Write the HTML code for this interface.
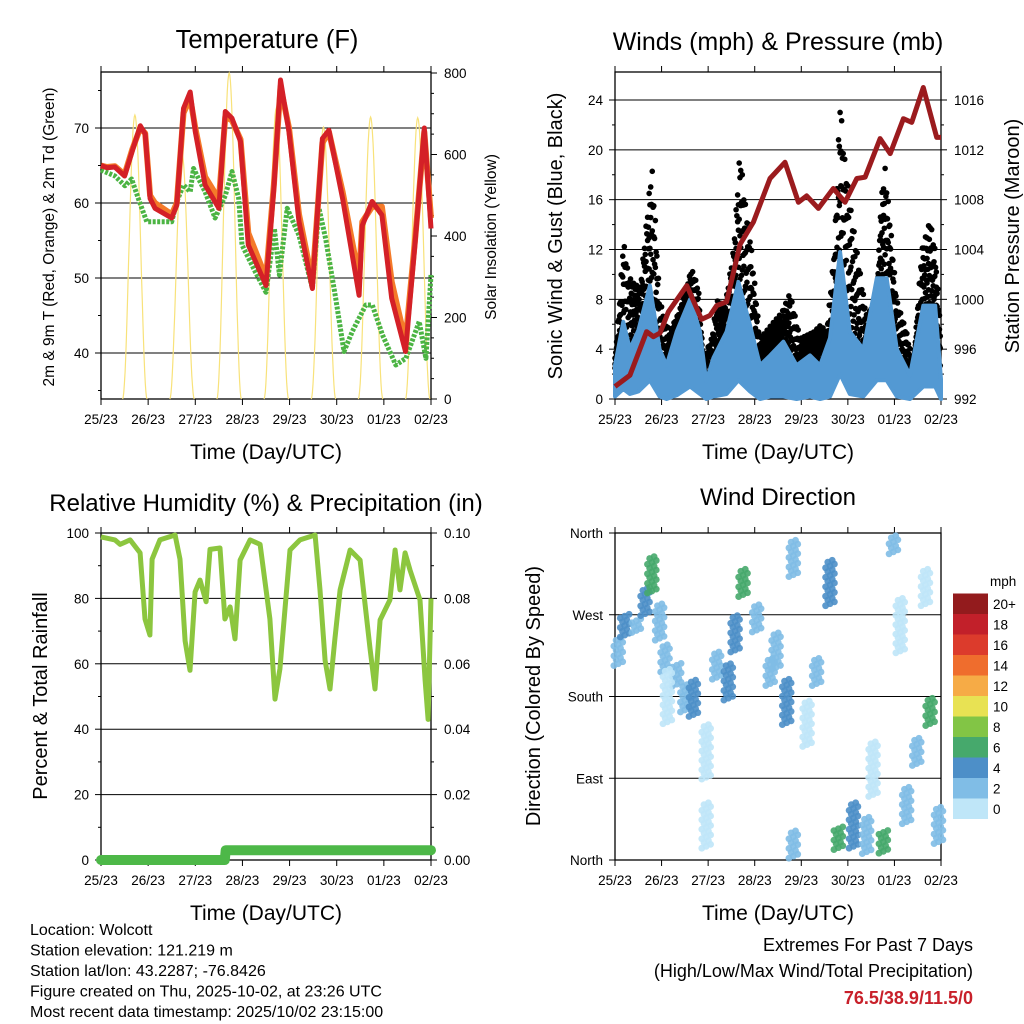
<!DOCTYPE html>
<html><head><meta charset="utf-8"><style>
html,body{margin:0;padding:0;background:#fff}
svg{display:block;font-family:"Liberation Sans",sans-serif}
</style></head><body>
<svg id="c" width="1024" height="1024" viewBox="0 0 1024 1024">
<g id="g"></g>
</svg>
<script>
// ---------- DATA ----------
const dayLabels = ["25/23","26/23","27/23","28/23","29/23","30/23","01/23","02/23"];
const tRedTimes = [0,3,7,12,16,20,22.5,25,27.5,36,38.6,42,45.4,48,53,60,63.3,66.7,71,75,84,88,91.4,95.7,100.8,107.6,112.7,116,123,131.4,133,138,143,148,155,160,164.6,168];
const tRedVals  = [65,64.7,64.8,63.6,67,70.3,69.2,60.6,59.3,58,59.7,72.6,74.8,69.5,62.4,59.3,72.2,71.3,68.2,54.4,49,62,76.4,69.5,57.5,48.6,68.6,69.7,60.6,47.7,57,60.2,58.4,47.3,40.2,55,70,56.6];
const tOrgVals  = [65,64.8,64.9,63.8,67.2,70,69.3,61,60,58.5,60,72,74,70,63.5,60.5,71.5,71,68.5,56,50,62.5,75.5,70,58.5,49.5,68,69.5,61.5,50,57.5,59.5,59.5,49.5,41.5,55.5,69.5,58];
const tdTimes = [0,7.1,12.2,15.6,19,23.3,36,38.6,42,45.4,47.1,53,58.1,63.3,66.7,70.1,71.8,78.6,84,88.3,90.8,94.8,100.8,107.6,111,114.4,119.5,123.7,128,134.8,138.1,143.3,150.1,155.2,162,165.4,168];
const tdVals  = [64.4,63.6,62.3,63.2,60.6,57.5,57.5,60.2,62.4,61.5,64.6,61.5,58,61,64.2,60.6,54.4,50.8,48.1,56.6,50.4,59.3,55.7,48.6,59.3,55.2,47.3,40.2,42.9,46.4,46.4,42.4,38.4,39.3,44.2,39.3,50.4];
const solarRise = [11,35,59,83,107,131,155];
const solarSet  = [23.5,47.5,71.5,95.5,119.5,143.5,167.5];
const solarPeak = [697,600,800,714,667,692,690];
const presTimes = [0,7.7,16.3,19.8,23.2,27.5,37,44.6,48.9,52.4,57.5,64.4,71.3,79.9,87.6,94.5,98.8,104.8,112.5,118.6,124.6,128.9,136.6,141.8,148.6,152.9,158.9,165.8,168];
const presVals  = [993,993.9,997.4,997,997.3,999,1001.1,998.4,998.7,999.5,999.8,1004.4,1006.2,1009.7,1011,1007.8,1008.3,1007.3,1008.9,1007.8,1009.7,1009.8,1012.9,1011.7,1014.5,1014.2,1017,1013,1013];
const windTimes = [0,4.3,7.7,12,18,23,26.6,31.8,38.7,43.8,47,50.7,57.5,63.6,69.6,74.7,80,86.8,93.6,100.5,105.7,110.8,116,121,128,134.9,140,145.2,152,158.9,165,168];
const windHi = [2.7,6.2,4,5.5,9.1,4,2.7,5.4,8,5.4,1.4,3.3,5.4,9.4,5.9,2.7,3.5,4.6,2.7,3.5,2.7,4.9,11.8,5.4,4,9.7,9.7,4,1.9,7.5,7.5,1.6];
const windLo = [0.2,0.8,0.4,0.6,1.5,0.2,0,0.3,1,0.4,0,0.2,0.4,1.5,0.6,0,0.2,0.2,0,0.2,0,0.2,2,0.4,0.2,1.5,1.5,0.2,0,1,1,0];
const gustTimes = [0,2,4.3,7,9.5,13,16,19,21,23,28,33,39.5,43,45.5,50,52.4,56.7,61,64.4,67,69.6,74.7,78,81.6,86,90.2,95.4,102.2,106,109.1,113,116,118,121,124.6,129.7,135,137,139.2,142,145.2,150.3,153.8,158,162.4,165,168];
const gustHi = [3.3,7,12.9,10,9.4,9,14,19,14,8,5.4,7,10.5,9,3.3,5,8,7.5,12,20.1,16,13.4,4.9,5.5,6.2,7,8.6,4.9,5.4,6,5.4,12,24.3,20,16,12.1,6.7,8,16,18.7,14,8,5.4,2.7,12,14.5,12,5.4];
const rhTimes = [0,7.1,9.7,14.8,19.9,22.4,24.9,26,30,37.7,40.2,42.8,45.3,47.9,50.4,53.5,55.5,60.6,63.1,65.7,68.2,70.8,75.9,81,86,88.6,91.1,96.2,101.3,109,111.5,114.1,116.6,119.1,121.7,126.8,131.9,137,139.5,142.1,147.1,149.7,152.2,154.8,157.3,162.4,165,166.5,168];
const rhVals = [98.8,97.9,96.5,97.9,93.9,73.7,68.8,92,97.9,99.4,92,67,58,82,85.6,79,95,95.4,73.7,77.4,67.6,91.7,97.9,96.5,73.7,49.2,58.4,94.8,97.9,99.4,82.6,61,52.3,67.6,82.6,94.8,91.7,64.5,52.3,73.4,79.5,94.8,82.6,93.9,88.7,79.5,55,43,80];
const precipTimes = [0,63,63.5,168];
const precipVals = [0,0,0.003,0.003];
const dirTimes  = [1.7,5,11,15.5,19,23,25.8,31.8,36,40.4,47,47,52.4,58.4,61.9,66,73,80,88.5,91.9,91.9,103.9,110.8,115.1,122.9,129.7,138.3,143.5,147,150.3,155.5,162.4,166.7,27,83,99,133,160];
const dirVals   = [229,258,258,284,314,262,222,204,178,178,119,38,214,196,249,305,266,207,174,332,17,207,305,24,38,27,20,347,258,60,119,163,38,180,230,150,100,300];
const dirSpread = [30,25,15,30,40,40,30,25,30,40,60,50,30,40,40,30,30,30,50,40,30,30,50,25,50,40,25,20,60,40,30,30,40,60,40,50,60,40];
const dirSpeed  = [3,4,3,5,6,2,2,2,3,4,0,0,2,4,4,6,2,2,4,2,2,2,4,7,4,2,6,3,0,2,3,6,3,0,2,0,0,0];
const cbLabels = ["0","2","4","6","8","10","12","14","16","18","20+"];
const cbColors = ["#bfe6f8","#80bde6","#4d8fc8","#46a96c","#82c545","#e8e253","#f6ab46","#ef6d2d","#dc3b2c","#c2202a","#931b1d"];

// ---------- HELPERS ----------
const NS="http://www.w3.org/2000/svg";
const G=document.getElementById('g');
function el(tag,attrs,parent){const e=document.createElementNS(NS,tag);for(const k in attrs)e.setAttribute(k,attrs[k]);(parent||G).appendChild(e);return e;}
function txt(s,x,y,size,anchor,parent,extra){const t=el('text',Object.assign({x:x,y:y,'font-size':size,'text-anchor':anchor||'middle',fill:'#000'},extra||{}),parent);t.textContent=s;return t;}
function lin(d0,d1,r0,r1){return v=>r0+(v-d0)*(r1-r0)/(d1-d0);}
function path(pts){return pts.map((p,i)=>(i?'L':'M')+p[0].toFixed(1)+','+p[1].toFixed(1)).join('');}
function interp(ts,vs,t){if(t<=ts[0])return vs[0];for(let i=1;i<ts.length;i++){if(t<=ts[i]){const f=(t-ts[i-1])/(ts[i]-ts[i-1]);return vs[i-1]+f*(vs[i]-vs[i-1]);}}return vs[vs.length-1];}

function frame(x0,y0,x1,y1,name){
  const g=el('g',{});
  
  
  el('rect',{x:x0,y:y0,width:x1-x0,height:y1-y0,fill:'none',stroke:'#000','stroke-width':1.3},g);
  return g;
}
function xAxis(x0,x1,y0,y1,g){
  const X=lin(0,168,x0,x1);
  const ax=el('g',{},g);
  
  
  dayLabels.forEach((s,i)=>{const x=X(i*24);
    el('line',{x1:x,x2:x,y1:y1,y2:y1+6,stroke:'#000'},ax);
    el('line',{x1:x,x2:x,y1:y0,y2:y0-6,stroke:'#000'},ax);
    const t=txt(s,x,y1+25,13.5,'middle',ax);
    
    
  });
  const tt=txt('Time (Day/UTC)',(x0+x1)/2,y1+60,21,'middle',ax);
  
  
  return X;
}
function yTicks(vals,labels,Y,x0,x1,side,grid,g,size,minor){
  vals.forEach((v,i)=>{const y=Y(v);
    if(grid) el('line',{x1:x0,x2:x1,y1:y,y2:y,stroke:'#000','stroke-width':1},g);
    if(side==='l'){el('line',{x1:x0,x2:x0-6,y1:y,y2:y,stroke:'#000'},g);
      const t=txt(labels[i],x0-12,y+5,size||13.5,'end',g);}
    else{el('line',{x1:x1,x2:x1+6,y1:y,y2:y,stroke:'#000'},g);
      const t=txt(labels[i],x1+13,y+5,size||13.5,'start',g);}
  });
  (minor||[]).forEach(v=>{const y=Y(v);
    if(side==='l') el('line',{x1:x0,x2:x0-3,y1:y,y2:y,stroke:'#000'},g);
    else el('line',{x1:x1,x2:x1+3,y1:y,y2:y,stroke:'#000'},g);});
}
function rotLabel(s,x,y,size,name){const t=txt(s,x,y,size,'middle',G,{transform:'rotate(-90 '+x+' '+y+')'});}
function title(s,x,y,size,name){const t=txt(s,x,y,size);}

// ---------- PANEL 1: TEMPERATURE ----------
(function(){
  const x0=101,x1=431,y0=72,y1=399;
  const g=frame(x0,y0,x1,y1,'temperature-panel');
  const X=xAxis(x0,x1,y0,y1,g);
  const Y=lin(40,70,353,128), YS=lin(0,800,399,73);
  yTicks([40,50,60,70],['40','50','60','70'],Y,x0,x1,'l',true,g,13.5,[35,45,55,65,75]);
  const sv=[],sl=[];for(let v=0;v<=800;v+=50){if(v%200===0)sv.push(v);else sl.push(v);}
  yTicks(sv,sv.map(String),YS,x0,x1,'r',false,g,13.5,sl);
  solarRise.forEach((r,i)=>{const pts=[];const s=solarSet[i];
    for(let k=0;k<=40;k++){const t=r+(s-r)*k/40;const sn=Math.sin(Math.PI*k/40);const v=solarPeak[i]*sn*sn;if(t<=168)pts.push([X(t),YS(v)]);}
    const p=el('path',{d:path(pts),fill:'none',stroke:'#f8e27a','stroke-width':1.2},g);
    
    
  });
  const td=el('path',{d:path(tdTimes.map((t,i)=>[X(t),Y(tdVals[i])])),fill:'none',stroke:'#4bb443','stroke-width':5,'stroke-dasharray':'3 1.5','stroke-linejoin':'round'},g);
  
  
  const o=el('path',{d:path(tRedTimes.map((t,i)=>[X(t),Y(tOrgVals[i])])),fill:'none',stroke:'#f47a29','stroke-width':6,'stroke-linejoin':'round'},g);
  
  
  const r=el('path',{d:path(tRedTimes.map((t,i)=>[X(t),Y(tRedVals[i])])),fill:'none',stroke:'#d42027','stroke-width':5,'stroke-linejoin':'round'},g);
  
  
  title('Temperature (F)',267,48,25.5,'temperature-title');
  rotLabel('2m & 9m T (Red, Orange) & 2m Td (Green)',54,237,15.5,'temperature-y-axis-title');
  rotLabel('Solar Insolation (Yellow)',496,237,15.5,'solar-y-axis-title');
})();

// ---------- PANEL 2: WINDS ----------
(function(){
  const x0=615,x1=941,y0=72,y1=399;
  const g=frame(x0,y0,x1,y1,'winds-panel');
  const X=xAxis(x0,x1,y0,y1,g);
  const Y=lin(0,24,399,100), YP=lin(992,1016,399,100);
  yTicks([0,4,8,12,16,20,24],['0','4','8','12','16','20','24'],Y,x0,x1,'l',true,g,13.5,[2,6,10,14,18,22]);
  yTicks([992,996,1000,1004,1008,1012,1016],['992','996','1000','1004','1008','1012','1016'],YP,x0,x1,'r',false,g,13.5,[994,998,1002,1006,1010,1014]);
  const fr=[0.98,0.55,0.25,0.8,0.4,0.1,0.9,0.65,0.35,0.72,0.18,0.5];
  const gg=el('g',{},g);
  
  
  let k=0;
  for(let t=0;t<=168;t+=0.4){
    const hi=interp(gustTimes,gustHi,t), lo=interp(windTimes,windHi,t)-0.5;
    for(let j=0;j<3;j++){const f=fr[(k++)%fr.length];
      el('circle',{cx:X(t),cy:Y(lo+(hi-lo)*f),r:2.8,fill:'#000'},gg);}
  }
  const wt=windTimes.map((t,i)=>[X(t),Y(windHi[i])]);
  const wb=windTimes.map((t,i)=>[X(t),Y(windLo[i])]).reverse();
  const wp=el('path',{d:path(wt.concat(wb))+'Z',fill:'#5399d3',stroke:'#5399d3','stroke-width':4,'stroke-linejoin':'round'},g);
  
  
  const pp=el('path',{d:path(presTimes.map((t,i)=>[X(t),YP(presVals[i])])),fill:'none',stroke:'#9b1b1e','stroke-width':5,'stroke-linejoin':'round'},g);
  
  
  title('Winds (mph) & Pressure (mb)',778,50,25,'winds-title');
  rotLabel('Sonic Wind & Gust (Blue, Black)',562,236,20,'wind-y-axis-title');
  rotLabel('Station Pressure (Maroon)',1019,236,20,'pressure-y-axis-title');
})();

// ---------- PANEL 3: HUMIDITY ----------
(function(){
  const x0=101,x1=431,y0=533,y1=860;
  const g=frame(x0,y0,x1,y1,'humidity-panel');
  const X=xAxis(x0,x1,y0,y1,g);
  const Y=lin(0,100,860,533), YR=lin(0,0.1,860,533);
  yTicks([0,20,40,60,80,100],['0','20','40','60','80','100'],Y,x0,x1,'l',true,g,13.5,[10,30,50,70,90]);
  yTicks([0,0.02,0.04,0.06,0.08,0.1],['0.00','0.02','0.04','0.06','0.08','0.10'],YR,x0,x1,'r',false,g,13.5,[0.01,0.03,0.05,0.07,0.09]);
  const rh=el('path',{d:path(rhTimes.map((t,i)=>[X(t),Y(rhVals[i])])),fill:'none',stroke:'#8cc63f','stroke-width':5,'stroke-linejoin':'round'},g);
  
  
  const pr=el('path',{d:path(precipTimes.map((t,i)=>[X(t),YR(precipVals[i])])),fill:'none',stroke:'#4db848','stroke-width':10,'stroke-linecap':'round','stroke-linejoin':'round'},g);
  
  
  title('Relative Humidity (%) & Precipitation (in)',266,511,24,'humidity-title');
  rotLabel('Percent & Total Rainfall',47,696,20,'humidity-y-axis-title');
})();

// ---------- PANEL 4: WIND DIRECTION ----------
(function(){
  const x0=615,x1=941,y0=533,y1=860;
  const g=frame(x0,y0,x1,y1,'wind-direction-panel');
  const X=xAxis(x0,x1,y0,y1,g);
  const Y=lin(0,360,860,533);
  yTicks([0,90,180,270,360],['North','East','South','West','North'],Y,x0,x1,'l',true,g,13.5);
  dirTimes.forEach((t,i)=>{
    const n=Math.max(8,Math.round(dirSpread[i]/2));
    const col=cbColors[Math.min(10,Math.floor(dirSpeed[i]/2))];
    for(let k=0;k<n;k++){
      const d=dirVals[i]-dirSpread[i]/2+dirSpread[i]*k/(n-1);
      const dx=((k*7)%5-2)*2.2;
      const c=el('circle',{cx:X(t)+dx,cy:Y(Math.max(0,Math.min(360,d))),r:3.4,fill:col,opacity:0.9},g);
      
      
    }
  });
  const cb=el('g',{});
  
  
  const bh=20.5;
  cbColors.forEach((c,i)=>{const y=819-(i+1)*bh;
    el('rect',{x:953,y:y,width:35,height:bh,fill:c},cb);
    const t=txt(cbLabels[i],993,y+bh/2+5,13.5,'start',cb);
    
    });
  const u=txt('mph',990,586,13.5,'start',cb);
  
  
  title('Wind Direction',778,505,24,'wind-direction-title');
  rotLabel('Direction (Colored By Speed)',540,696,20,'direction-y-axis-title');
})();

// ---------- FOOTER ----------
const foot=["Location: Wolcott","Station elevation: 121.219 m","Station lat/lon: 43.2287; -76.8426","Figure created on Thu, 2025-10-02, at 23:26 UTC","Most recent data timestamp: 2025/10/02 23:15:00"];
foot.forEach((s,i)=>{const t=txt(s,30,935+i*20.5,16,'start');
  
  });
let t1=txt('Extremes For Past 7 Days',973,951,18,'end');


let t2=txt('(High/Low/Max Wind/Total Precipitation)',973,977,18,'end');


let t3=txt('76.5/38.9/11.5/0',973,1004,18,'end',G,{fill:'#c8202a','font-weight':'bold'});


</script>
</body></html>
